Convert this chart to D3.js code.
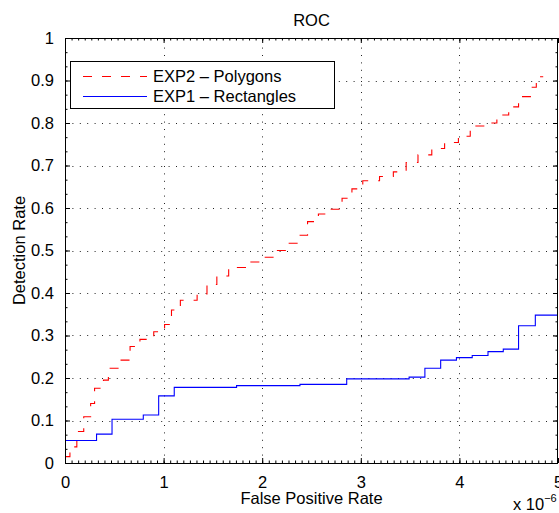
<!DOCTYPE html>
<html>
<head>
  <meta charset="utf-8">
  <title>ROC</title>
  <style>
    body { margin: 0; background: #fff; }
    text {
      font-family: "Liberation Sans", Arial, Helvetica, sans-serif;
      font-size: 16.5px;
      fill: #000;
    }
    .grid {
      stroke: #222;
      stroke-width: 1px;
      stroke-dasharray: 1,6.4;
    }
    .frame {
      fill: none;
      stroke: #000;
      stroke-width: 1px;
    }
  </style>
</head>
<body>
  <script src="https://d3js.org/d3.v7.min.js"></script>
  <svg width="559" height="513"></svg>
  <script>
    // false positive rate (x 10^-6) and detection rate
    var exp1X = [0, 0, 0.32, 0.477, 0.794, 0.95, 1.108, 1.74, 2.383, 2.857, 3.49, 3.65, 3.81, 3.97, 4.13, 4.29, 4.445, 4.60, 4.77, 5.0];
    var exp1Y = [0, 0.053, 0.068, 0.103, 0.113, 0.158, 0.178, 0.182, 0.185, 0.198, 0.202, 0.223, 0.242, 0.248, 0.253, 0.262, 0.268, 0.323, 0.348, 0.348];

    var exp2X = [0, 0.05, 0.12, 0.19, 0.26, 0.30, 0.39, 0.44, 0.56, 0.66, 0.76, 0.90, 1.01, 1.08, 1.17, 1.34, 1.44, 1.54, 1.66, 1.83, 1.98, 2.11, 2.25, 2.36, 2.46, 2.57, 2.69, 2.81, 2.91, 3.02, 3.19, 3.33, 3.46, 3.58, 3.72, 3.85, 3.99, 4.11, 4.26, 4.38, 4.50, 4.60, 4.72, 4.78, 4.85];
    var exp2Y = [0.015, 0.038, 0.074, 0.109, 0.14, 0.176, 0.195, 0.223, 0.242, 0.274, 0.291, 0.309, 0.326, 0.36, 0.383, 0.398, 0.42, 0.44, 0.46, 0.473, 0.484, 0.50, 0.517, 0.536, 0.568, 0.586, 0.597, 0.623, 0.645, 0.664, 0.674, 0.685, 0.707, 0.725, 0.74, 0.754, 0.769, 0.793, 0.80, 0.819, 0.838, 0.862, 0.884, 0.909, 0.909];

    var xTicks = [0, 1, 2, 3, 4, 5];
    var xTickLabels = ["0", "1", "2", "3", "4", "5"];
    var yTicks = [0, 0.1, 0.2, 0.3, 0.4, 0.5, 0.6, 0.7, 0.8, 0.9, 1];
    var yTickLabels = ["0", "0.1", "0.2", "0.3", "0.4", "0.5", "0.6", "0.7", "0.8", "0.9", "1"];

    var series = [
      { name: "EXP2 \u2013 Polygons", xs: exp2X, ys: exp2Y, color: "#ff0000", dash: "9,10" },
      { name: "EXP1 \u2013 Rectangles", xs: exp1X, ys: exp1Y, color: "#0000ff", dash: null }
    ];

    var svg = d3.select("svg");
    var plotL = 65, plotR = 558, plotT = 38, plotB = 463;

    var x = d3.scaleLinear().domain([0, 5]).range([plotL, plotR]);
    var y = d3.scaleLinear().domain([0, 1]).range([plotB, plotT]);

    // grid
    svg.append("g").selectAll("line")
        .data(xTicks.slice(1, -1))
        .enter().append("line")
        .attr("class", "grid")
        .attr("x1", function(d) { return Math.round(x(d)) + 0.5; })
        .attr("x2", function(d) { return Math.round(x(d)) + 0.5; })
        .attr("y1", plotB)
        .attr("y2", plotT);

    svg.append("g").selectAll("line")
        .data(yTicks.slice(1, -1))
        .enter().append("line")
        .attr("class", "grid")
        .attr("y1", function(d) { return Math.round(y(d)) + 0.5; })
        .attr("y2", function(d) { return Math.round(y(d)) + 0.5; })
        .attr("x1", plotL)
        .attr("x2", plotR);

    // axes: ticks inward on all four sides, minor ticks too
    var xMinor = d3.range(0, 5.0001, 1 / 15);
    var yMinor = d3.range(0, 1.0001, 1 / 30);

    var bottomAxis = d3.axisBottom(x).tickValues(xTicks).tickSizeInner(-5).tickSizeOuter(0).tickPadding(13)
        .tickFormat(function(d, i) { return xTickLabels[i]; });
    svg.append("g").attr("transform", "translate(0," + plotB + ")").call(bottomAxis);
    svg.append("g").attr("transform", "translate(0," + plotB + ")")
        .call(d3.axisBottom(x).tickValues(xMinor).tickSize(-2.5).tickFormat(""));
    svg.append("g").attr("transform", "translate(0," + plotT + ")")
        .call(d3.axisTop(x).tickValues(xTicks).tickSize(-5).tickFormat(""));
    svg.append("g").attr("transform", "translate(0," + plotT + ")")
        .call(d3.axisTop(x).tickValues(xMinor).tickSize(-2.5).tickFormat(""));

    var leftAxis = d3.axisLeft(y).tickValues(yTicks).tickSizeInner(-5).tickSizeOuter(0).tickPadding(11)
        .tickFormat(function(d, i) { return yTickLabels[i]; });
    svg.append("g").attr("transform", "translate(" + plotL + ",0)").call(leftAxis);
    svg.append("g").attr("transform", "translate(" + plotL + ",0)")
        .call(d3.axisLeft(y).tickValues(yMinor).tickSize(-2.5).tickFormat(""));
    svg.append("g").attr("transform", "translate(" + plotR + ",0)")
        .call(d3.axisRight(y).tickValues(yTicks).tickSize(-5).tickFormat(""));
    svg.append("g").attr("transform", "translate(" + plotR + ",0)")
        .call(d3.axisRight(y).tickValues(yMinor).tickSize(-2.5).tickFormat(""));

    svg.selectAll(".domain").remove();
    svg.selectAll(".tick line").attr("stroke", "#000");
    svg.selectAll(".tick text")
        .attr("font-family", null)
        .attr("font-size", null);

    // data lines
    svg.append("clipPath").attr("id", "clip")
      .append("rect")
        .attr("x", plotL).attr("y", plotT)
        .attr("width", plotR - plotL).attr("height", plotB - plotT);

    var line = d3.line()
        .x(function(d) { return x(d[0]); })
        .y(function(d) { return y(d[1]); })
        .curve(d3.curveStepAfter);

    svg.append("g").attr("clip-path", "url(#clip)")
      .selectAll("path")
        .data(series)
        .enter().append("path")
        .attr("fill", "none")
        .attr("stroke", function(d) { return d.color; })
        .attr("stroke-width", 1.1)
        .attr("stroke-dasharray", function(d) { return d.dash; })
        .attr("d", function(d) { return line(d3.zip(d.xs, d.ys)); });

    // box
    svg.append("rect")
        .attr("class", "frame")
        .attr("x", plotL + 0.5).attr("y", plotT + 0.5)
        .attr("width", plotR - plotL - 1).attr("height", plotB - plotT);

    // legend
    var legend = svg.append("g");
    legend.append("rect")
        .attr("x", 70.5).attr("y", 61.5)
        .attr("width", 264).attr("height", 47)
        .attr("fill", "#fff")
        .attr("stroke", "#000");

    var item = legend.selectAll(".item")
        .data(series)
        .enter().append("g")
        .attr("class", "item")
        .attr("transform", function(d, i) { return "translate(0," + (76 + i * 20) + ")"; });

    item.append("line")
        .attr("x1", 83).attr("x2", 147)
        .attr("y1", 0.5).attr("y2", 0.5)
        .attr("stroke", function(d) { return d.color; })
        .attr("stroke-width", 1.1)
        .attr("stroke-dasharray", function(d) { return d.dash; });

    item.append("text")
        .attr("x", 153)
        .attr("y", 6)
        .text(function(d) { return d.name; });

    // titles
    svg.append("text")
        .attr("x", (plotL + plotR) / 2)
        .attr("y", 26)
        .attr("text-anchor", "middle")
        .text("ROC");

    svg.append("text")
        .attr("x", (plotL + plotR) / 2)
        .attr("y", 504)
        .attr("text-anchor", "middle")
        .text("False Positive Rate");

    svg.append("text")
        .attr("transform", "translate(25," + (plotT + plotB) / 2 + ") rotate(-90)")
        .attr("text-anchor", "middle")
        .text("Detection Rate");

    var expo = svg.append("text").attr("x", 513).attr("y", 510);
    expo.append("tspan").text("x 10");
    expo.append("tspan").attr("dy", -8).attr("font-size", "11px").text("\u22126");
  </script>
</body>
</html>
